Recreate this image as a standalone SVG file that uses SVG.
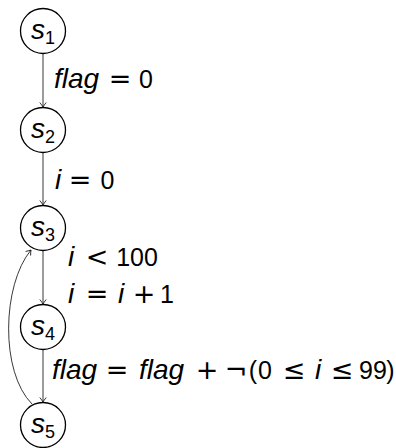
<svg xmlns="http://www.w3.org/2000/svg" width="396" height="448" viewBox="0 0 396 448">
<style>
.node{fill:#fff;stroke:#000;stroke-width:1.3}
.edge{fill:none;stroke:#222;stroke-width:0.9}
.v{font-family:"Liberation Sans",Arial,sans-serif;font-style:italic;font-size:28px;fill:#000}
.n{font-family:"Liberation Sans",Arial,sans-serif;font-size:25px;fill:#000;text-anchor:middle}
.op{font-family:"DejaVu Sans",sans-serif;font-size:27px;fill:#000;text-anchor:middle}
.sv{font-family:"Liberation Sans",Arial,sans-serif;font-style:italic;font-size:28px;fill:#000}
.sub{font-family:"Liberation Sans",Arial,sans-serif;font-size:18px;fill:#000}
</style>
<defs>
<marker id="arr" markerWidth="10" markerHeight="10" refX="0" refY="0" viewBox="-6 -5 8 10" orient="auto" markerUnits="userSpaceOnUse">
<path d="M -4.5 -3.2 Q -1.5 -0.8 0 0 Q -1.5 0.8 -4.5 3.2" fill="none" stroke="#222" stroke-width="0.9"/>
</marker>
</defs>
<g id="connectors">
<path class="edge" d="M 43 54 L 43 107" marker-end="url(#arr)"/>
<path class="edge" d="M 43 153 L 43 205" marker-end="url(#arr)"/>
<path class="edge" d="M 43 251 L 43 304" marker-end="url(#arr)"/>
<path class="edge" d="M 43 350 L 43 402" marker-end="url(#arr)"/>
<path class="edge" d="M 32 404 C 0 372, 2 285, 31 250" marker-end="url(#arr)"/>
</g>
<g id="s1">
<circle class="node" cx="43" cy="31" r="22.5"/>
<text class="sv" x="31" y="39">s</text><text class="sub" x="45" y="44">1</text>
</g>
<g id="s2">
<circle class="node" cx="43" cy="130" r="22.5"/>
<text class="sv" x="31" y="138">s</text><text class="sub" x="45" y="143">2</text>
</g>
<g id="s3">
<circle class="node" cx="43" cy="228" r="22.5"/>
<text class="sv" x="31" y="236">s</text><text class="sub" x="45" y="241">3</text>
</g>
<g id="s4">
<circle class="node" cx="43" cy="327" r="22.5"/>
<text class="sv" x="31" y="335">s</text><text class="sub" x="45" y="340">4</text>
</g>
<g id="s5">
<circle class="node" cx="43" cy="425" r="22.5"/>
<text class="sv" x="31" y="433">s</text><text class="sub" x="45" y="438">5</text>
</g>
<g id="labels">
<text class="v" x="54" y="88">flag</text><text class="op" x="120" y="88">=</text><text class="n" x="146" y="88">0</text>
<text class="v" x="55" y="189">i</text><text class="op" x="80" y="189">=</text><text class="n" x="107.5" y="189">0</text>
<text class="v" x="68" y="266">i</text><text class="op" x="97" y="266">&lt;</text><text class="n" x="137" y="266">100</text>
<text class="v" x="68" y="303">i</text><text class="op" x="97" y="303">=</text><text class="v" x="118" y="303">i</text><text class="op" x="144" y="303">+</text><text class="n" x="167" y="303">1</text>
<text class="v" x="52" y="379">flag</text><text class="op" x="117" y="379">=</text><text class="v" x="139" y="379">flag</text><text class="op" x="207" y="379">+</text><text class="op" x="236" y="379">¬</text><text class="n" x="253" y="379">(</text><text class="n" x="265" y="379">0</text><text class="op" x="294" y="379">≤</text><text class="v" x="315" y="379">i</text><text class="op" x="342" y="379">≤</text><text class="n" x="373" y="379">99</text><text class="n" x="390.5" y="379">)</text>
</g>
</svg>
